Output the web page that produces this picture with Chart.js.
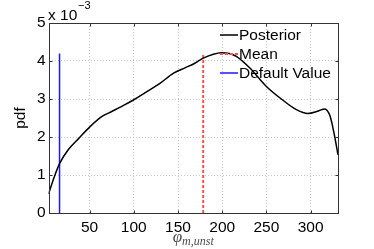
<!DOCTYPE html>
<html>
<head>
<meta charset="utf-8">
<script src="https://cdn.jsdelivr.net/npm/chart.js@4.4.0/dist/chart.umd.min.js"></script>
<style>
  html, body { margin: 0; padding: 0; background: #fff; }
  #wrap { width: 374px; height: 249px; }
</style>
</head>
<body>
<div id="wrap"><canvas id="pdfChart"></canvas></div>
<script>
/* DATA (pdf in units of 1e-3) */
const phi = [3.5, 10, 16, 26, 38, 50, 64, 75, 90, 100, 113, 130, 145, 158, 169, 178, 190, 199, 208, 216, 231, 250, 268, 284, 297, 308, 316, 322, 326.5, 331];
const pdf = [0.5, 0.95, 1.30, 1.67, 1.97, 2.26, 2.54, 2.67, 2.85, 2.98, 3.17, 3.42, 3.68, 3.82, 3.94, 4.07, 4.18, 4.22, 4.2, 4.12, 3.82, 3.33, 2.98, 2.72, 2.62, 2.68, 2.74, 2.55, 2.1, 1.53];
const meanValue = 178.5;
const defaultValue = 16;
const markerTop = 4.2;
const xTicks = [50, 100, 150, 200, 250, 300];
const yTicks = [0, 1, 2, 3, 4, 5];
const labels = ["Posterior", "Mean", "Default Value"];

const FONT = "'Liberation Sans', Arial, Helvetica, sans-serif";
const SERIF = "'Liberation Serif', 'DejaVu Serif', serif";

/* FRAME, TICKS, TITLES, LEGEND */
const extras = {
  id: "extras",
  afterDraw(chart) {
    const { ctx, chartArea: a, scales } = chart;
    ctx.save();
    ctx.strokeStyle = "#333";
    ctx.lineWidth = 1;
    const L = Math.round(a.left) + 0.5, T = Math.round(a.top) + 0.5;
    const R = Math.round(a.right) + 0.5, B = Math.round(a.bottom) + 0.5;
    ctx.strokeRect(L, T, R - L, B - T);

    // inward tick marks
    ctx.beginPath();
    xTicks.forEach(v => {
      const x = Math.round(scales.x.getPixelForValue(v)) + 0.5;
      ctx.moveTo(x, B); ctx.lineTo(x, B - 3);
      ctx.moveTo(x, T); ctx.lineTo(x, T + 3);
    });
    yTicks.forEach(v => {
      const y = Math.round(scales.y.getPixelForValue(v)) + 0.5;
      ctx.moveTo(L, y); ctx.lineTo(L + 3, y);
      ctx.moveTo(R, y); ctx.lineTo(R - 3, y);
    });
    ctx.stroke();

    // y title
    ctx.fillStyle = "#000";
    ctx.font = "15.5px " + FONT;
    ctx.translate(21, (a.top + a.bottom) / 2);
    ctx.rotate(-Math.PI / 2);
    ctx.textAlign = "center";
    ctx.textBaseline = "middle";
    ctx.fillText("pdf", 0, 0);
    ctx.setTransform(1, 0, 0, 1, 0, 0);

    // exponent
    ctx.textAlign = "left";
    ctx.textBaseline = "alphabetic";
    ctx.font = "15.5px " + FONT;
    ctx.fillText("x 10", 48, 19.5);
    ctx.font = "11px " + FONT;
    ctx.fillText("\u22123", 78, 9);

    // x title
    ctx.fillStyle = "#4d4d4d";
    const main = "\u03c6";
    const sub = "m,unst";
    ctx.font = "italic 17px " + SERIF;
    const w1 = ctx.measureText(main).width;
    ctx.font = "italic 12px " + SERIF;
    const w2 = ctx.measureText(sub).width;
    const x0 = (a.left + a.right) / 2 - (w1 + w2) / 2;
    ctx.font = "italic 17px " + SERIF;
    ctx.fillText(main, x0, 242);
    ctx.font = "italic 12px " + SERIF;
    ctx.fillText(sub, x0 + w1, 245);

    // legend
    ctx.font = "15.5px " + FONT;
    ctx.fillStyle = "#000";
    ctx.textBaseline = "middle";
    chart.data.datasets.forEach((ds, i) => {
      const y = 35 + i * 19;
      ctx.strokeStyle = ds.borderColor;
      ctx.lineWidth = ds.borderWidth;
      ctx.setLineDash(ds.borderDash || []);
      ctx.beginPath();
      ctx.moveTo(220, y);
      ctx.lineTo(238, y);
      ctx.stroke();
      ctx.setLineDash([]);
      ctx.fillText(ds.label, 239, y + 1);
    });
    ctx.restore();
  }
};

new Chart(document.getElementById("pdfChart"), {
  type: "scatter",
  data: {
    datasets: [
      {
        label: labels[0],
        data: phi.map((x, i) => ({ x, y: pdf[i] })),
        showLine: true,
        borderColor: "#000",
        borderWidth: 1.5,
        pointRadius: 0,
        cubicInterpolationMode: "monotone"
      },
      {
        label: labels[1],
        data: [{ x: meanValue, y: 0 }, { x: meanValue, y: markerTop }],
        showLine: true,
        borderColor: "#ff5050",
        borderWidth: 2,
        borderDash: [3, 2],
        pointRadius: 0
      },
      {
        label: labels[2],
        data: [{ x: defaultValue, y: 0 }, { x: defaultValue, y: markerTop }],
        showLine: true,
        borderColor: "#1a1aff",
        borderWidth: 1.5,
        pointRadius: 0
      }
    ]
  },
  options: {
    responsive: true,
    maintainAspectRatio: false,
    animation: false,
    layout: { padding: { top: 23, right: 36, left: 0, bottom: 0 } },
    plugins: { legend: { display: false }, tooltip: { enabled: false } },
    scales: {
      x: {
        type: "linear",
        min: 3.5,
        max: 331,
        afterBuildTicks: s => { s.ticks = xTicks.map(v => ({ value: v })); },
        afterFit: s => { s.height = 36; },
        grid: { color: "#c4c4c4", drawTicks: false },
        border: { display: false, dash: [1, 2] },
        ticks: { color: "#000", padding: 5, font: { family: FONT, size: 15.5 } }
      },
      y: {
        min: 0,
        max: 5,
        afterBuildTicks: s => { s.ticks = yTicks.map(v => ({ value: v })); },
        afterFit: s => { s.width = 48.5; },
        grid: { color: "#c4c4c4", drawTicks: false },
        border: { display: false, dash: [1, 2] },
        ticks: { color: "#000", padding: 3, font: { family: FONT, size: 15.5 } }
      }
    }
  },
  plugins: [extras]
});
</script>
</body>
</html>
